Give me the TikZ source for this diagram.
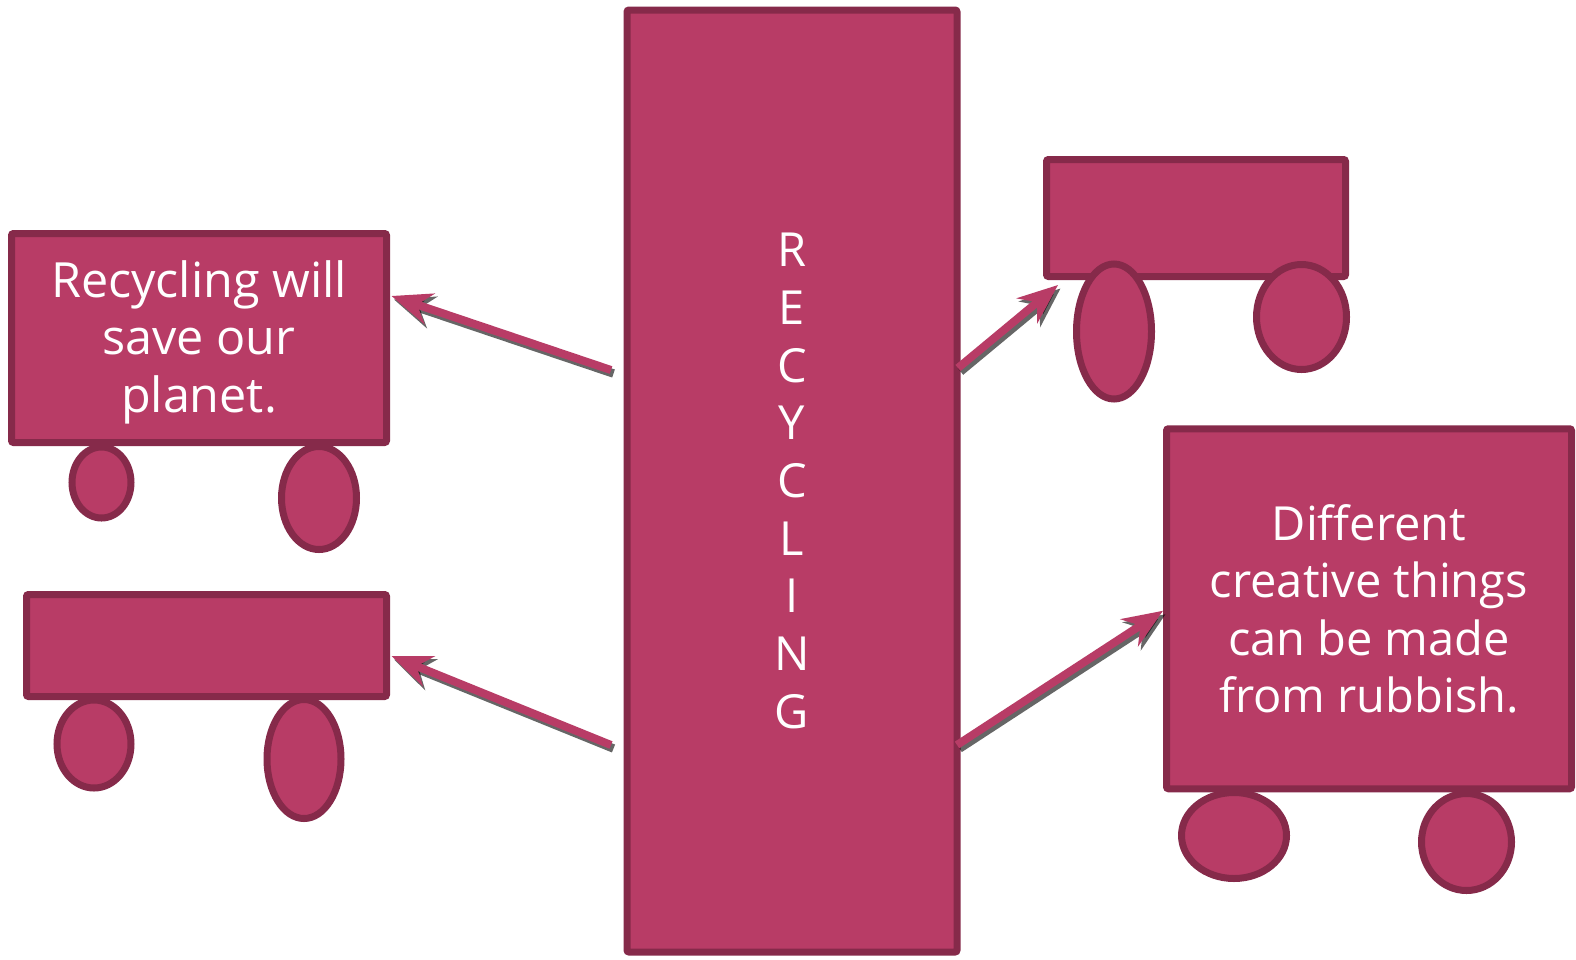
\documentclass[tikz,border=0pt]{standalone}
\usepackage{fontspec}
\setmainfont{Open Sans}
\usetikzlibrary{shapes.geometric,arrows.meta,calc}
\definecolor{fillc}{RGB}{184,60,102}
\definecolor{edgec}{RGB}{134,42,74}
\begin{document}
\begin{tikzpicture}[x=1pt,y=-1pt,
  cart/.style={draw=edgec,fill=fillc,line width=7pt,rounded corners=2pt,inner sep=0pt,outer sep=0pt},
  wheel/.style={ellipse,draw=edgec,fill=fillc,line width=7pt,inner sep=0pt,outer sep=0pt},
  txt/.style={text=white,font=\fontsize{47}{57.5}\selectfont,align=center},
  vtxt/.style={text=white,font=\fontsize{47}{57.7}\selectfont,align=center},
  conn/.style={draw=fillc,line width=8pt,-{Stealth[length=40pt,width=32pt,inset=13pt]}},
  connshadow/.style={draw=black,draw opacity=0.6,fill opacity=0.6,line width=8.5pt,-{Stealth[length=40pt,width=33pt,inset=13pt]}}]
\useasboundingbox (0,0) rectangle (1576,959);
\fill[white] (0,0) rectangle (1576,959);

% big central box
\node[cart,minimum width=330pt,minimum height=942pt,vtxt] (big) at (792,481) {R\\E\\C\\Y\\C\\L\\I\\N\\G};

% top-left cart
\node[wheel,minimum width=59pt,minimum height=71pt] (tlw1) at (101.5,482.5) {};
\node[wheel,minimum width=75pt,minimum height=103pt] (tlw2) at (319,498) {};
\node[cart,minimum width=375pt,minimum height=209pt] (tl) at (199,338) {};
\node[txt,font=\fontsize{48.5}{57.5}\selectfont] (tltext) at (199,342) {Recycling will\\save our\\planet.};

% bottom-left cart
\node[wheel,minimum width=74pt,minimum height=88pt] (blw1) at (94,744) {};
\node[wheel,minimum width=74pt,minimum height=119pt] (blw2) at (304,759) {};
\node[cart,minimum width=360pt,minimum height=102pt] (bl) at (206.5,645.5) {};

% top-right cart (wheels in front)
\node[cart,minimum width=299pt,minimum height=117pt] (tr) at (1196,218) {};
\node[wheel,minimum width=75pt,minimum height=135pt] (trw1) at (1114,331.5) {};
\node[wheel,minimum width=90pt,minimum height=105pt] (trw2) at (1301.5,317) {};

% bottom-right cart
\node[wheel,minimum width=105pt,minimum height=86pt] (brw1) at (1234,835.5) {};
\node[wheel,minimum width=90pt,minimum height=97pt] (brw2) at (1466.5,842) {};
\node[cart,minimum width=405pt,minimum height=360pt,txt] (br) at (1369,608.75) {Different\\creative things\\can be made\\from rubbish.};

% arrow end points
\coordinate (a1s) at (611,370);
\coordinate (a2s) at (611,745);
\coordinate (a3s) at (958,368);
\coordinate (a4s) at (957,745);
\coordinate (a1t) at ($(tl.east)+(5,-42)$);
\coordinate (a2t) at ($(bl.east)+(5,10.5)$);
\coordinate (a3t) at ($(tr.south west)+(11.5,8.5)$);
\coordinate (a4t) at ($(br.west)+(-3.5,2)$);

% shadows
\begin{scope}[transform canvas={shift={(2.5,3.5)}}]
  \draw[connshadow] (a1s) -- (a1t);
  \draw[connshadow] (a2s) -- (a2t);
  \draw[connshadow] (a3s) -- (a3t);
  \draw[connshadow] (a4s) -- (a4t);
\end{scope}
% arrows
\draw[conn] (a1s) -- (a1t);
\draw[conn] (a2s) -- (a2t);
\draw[conn] (a3s) -- (a3t);
\draw[conn] (a4s) -- (a4t);
\end{tikzpicture}
\end{document}
